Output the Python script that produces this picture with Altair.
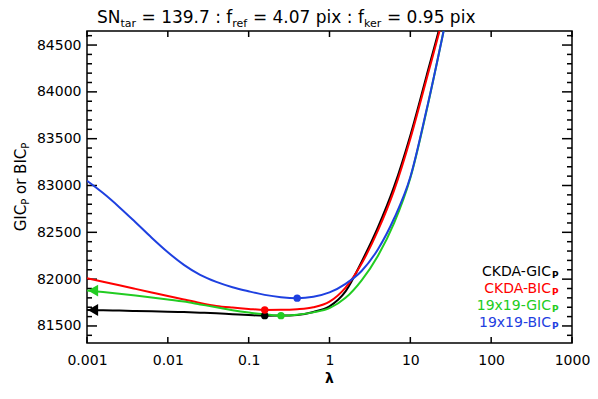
import altair as alt
import pandas as pd

# ---------------- data ----------------
lambdas = [0.001, 0.00158, 0.00251, 0.00398, 0.00631, 0.01, 0.0158, 0.0251,
           0.0398, 0.0631, 0.1, 0.158, 0.251, 0.398, 0.631, 1.0, 1.58, 2.51,
           3.98, 6.31, 10.0, 15.8, 25.1, 39.8]

ckda_gic = [81670, 81667, 81664, 81660, 81656, 81652, 81648, 81642, 81635, 81626,
            81617, 81610, 81611, 81618, 81650, 81710, 81870, 82190, 82555, 82990,
            83535, 84165, 84815, 85550]
ckda_bic = [82010, 81972, 81934, 81896, 81858, 81820, 81782, 81745, 81714, 81696,
            81682, 81671, 81672, 81679, 81700, 81760, 81910, 82170, 82520, 82950,
            83500, 84130, 84780, 85500]
g19_gic = [81878, 81862, 81845, 81826, 81805, 81783, 81760, 81730, 81700, 81668,
           81643, 81625, 81610, 81620, 81645, 81690, 81800, 81990, 82250, 82600,
           83080, 83790, 84600, 85450]
g19_bic = [83050, 82919, 82769, 82608, 82442, 82287, 82153, 82046, 81971, 81914,
           81870, 81832, 81807, 81797, 81812, 81858, 81950, 82090, 82320, 82650,
           83090, 83800, 84600, 85450]

series_names = ["CKDA-GIC", "CKDA-BIC", "19x19-GIC", "19x19-BIC"]
series_values = [ckda_gic, ckda_bic, g19_gic, g19_bic]
series_colors = ["#000000", "#ff0000", "#22cc22", "#1e40e0"]
arrow_series = ["CKDA-GIC", "19x19-GIC"]

x_ticks = [0.001, 0.01, 0.1, 1, 10, 100, 1000]
y_ticks = [81500, 82000, 82500, 83000, 83500, 84000, 84500]
y_minor = [81400, 81600, 81700, 81800, 81900, 82100, 82200, 82300, 82400,
           82600, 82700, 82800, 82900, 83100, 83200, 83300, 83400, 83600,
           83700, 83800, 83900, 84100, 84200, 84300, 84400, 84600]
x_domain = [0.001, 1000]
y_domain = [81318, 84650]

title_parts = [("SN", False), ("tar", True), (" = 139.7 : f", False), ("ref", True),
               (" = 4.07 pix : f", False), ("ker", True), (" = 0.95 pix", False)]
ytitle_parts = [("GIC", False), ("P", True), (" or BIC", False), ("P", True)]
legend_sub = "P"

# ---------------- layout ----------------
W, H = 485, 312
FONT = "DejaVu Sans"
# DejaVu Sans advance widths (em fraction) for measuring text pieces
CW = {" ": .318, "=": .838, ".": .318, ":": .337, "S": .635, "N": .748, "f": .352,
      "p": .635, "i": .278, "x": .592, "t": .392, "a": .613, "r": .411, "e": .615,
      "k": .579, "G": .775, "I": .295, "C": .698, "o": .612, "B": .686, "P": .603,
      "K": .656, "D": .770, "A": .684, "-": .361}
for d in "0123456789":
    CW[d] = .636


def tw(s, size):
    return sum(CW.get(c, .6) for c in s) * size


one = pd.DataFrame({"k": [0]})


def txt(s, x, y, size, color="black", align="left", angle=0, weight="normal"):
    return alt.Chart(one).mark_text(
        text=s, align=align, baseline="alphabetic", font=FONT, fontSize=size,
        color=color, angle=angle, fontWeight=weight
    ).encode(x=alt.value(x), y=alt.value(y))


xaxis = alt.Axis(values=x_ticks, format="~g", grid=False, domain=False, ticks=False,
                 tickSize=0, labelFont=FONT, labelFontSize=14, labelPadding=10,
                 labelFlush=False, labelOverlap=False, labelColor="black")
yaxis = alt.Axis(values=y_ticks, format="d", grid=False, domain=False, ticks=False,
                 tickSize=0, labelFont=FONT, labelFontSize=14, labelPadding=6,
                 labelOverlap=False, labelColor="black")
X = alt.X("lam:Q", scale=alt.Scale(type="log", domain=x_domain, nice=False),
          axis=xaxis, title=None)
Y = alt.Y("val:Q", scale=alt.Scale(domain=y_domain, zero=False, nice=False),
          axis=yaxis, title=None)
color = alt.Color("name:N", scale=alt.Scale(domain=series_names, range=series_colors),
                  legend=None)

layers = []

# tick marks (inward, all four sides)
xt = pd.DataFrame({"lam": x_ticks})
yt = pd.DataFrame({"val": y_ticks})
ym = pd.DataFrame({"val": y_minor})
rule = dict(color="black", strokeWidth=1.5)
layers.append(alt.Chart(xt).mark_rule(**rule).encode(x=X, y=alt.value(H), y2=alt.value(H - 6)))
layers.append(alt.Chart(xt).mark_rule(**rule).encode(x=X, y=alt.value(0), y2=alt.value(6)))
layers.append(alt.Chart(yt).mark_rule(**rule).encode(y=Y, x=alt.value(0), x2=alt.value(10)))
layers.append(alt.Chart(yt).mark_rule(**rule).encode(y=Y, x=alt.value(W - 10), x2=alt.value(W)))
layers.append(alt.Chart(ym).mark_rule(**rule).encode(y=Y, x=alt.value(0), x2=alt.value(5)))
layers.append(alt.Chart(ym).mark_rule(**rule).encode(y=Y, x=alt.value(W - 5), x2=alt.value(W)))

# curves
for name, vals, col in zip(series_names, series_values, series_colors):
    df = pd.DataFrame({"lam": lambdas, "val": vals, "name": name})
    layers.append(alt.Chart(df).mark_line(color=col, strokeWidth=2, clip=True,
                                          interpolate="monotone")
                  .encode(x=X, y=Y))

# minimum markers and left arrows
mins = []
arrows = []
for name, vals in zip(series_names, series_values):
    i = min(range(len(vals)), key=lambda j: vals[j])
    mins.append({"lam": lambdas[i], "val": vals[i], "name": name})
    if name in arrow_series:
        arrows.append({"lam": lambdas[0], "val": vals[0], "name": name})
layers.append(alt.Chart(pd.DataFrame(mins)).mark_point(
    filled=True, shape="circle", size=55, opacity=1).encode(x=X, y=Y, color=color))
layers.append(alt.Chart(pd.DataFrame(arrows)).mark_point(
    filled=True, shape="triangle-left", size=140, opacity=1, xOffset=6)
    .encode(x=X, y=Y, color=color))

# title with subscripts
MAIN, SUB = 17, 11
cx = 10
for s, is_sub in title_parts:
    size = SUB if is_sub else MAIN
    lead = len(s) - len(s.lstrip(" "))
    layers.append(txt(s.strip(" "), cx + tw(" " * lead, size), -8 + (4 if is_sub else 0), size))
    cx += tw(s, size)

# y-axis title (rotated, with subscripts)
YT, YS = 15, 10
total = sum(tw(s, YS if sb else YT) for s, sb in ytitle_parts)
cy = H / 2 + total / 2
for s, is_sub in ytitle_parts:
    size = YS if is_sub else YT
    lead = len(s) - len(s.lstrip(" "))
    layers.append(txt(s.strip(" "), -61 + (3 if is_sub else 0),
                      cy - tw(" " * lead, size), size, angle=270))
    cy -= tw(s, size)

# x-axis title
layers.append(txt("λ", W / 2, 352, 14, align="center", weight="bold"))

# legend (text only, right aligned)
for k, (name, col) in enumerate(zip(series_names, series_colors)):
    by = 245 + 17 * k
    layers.append(txt(name, 464, by, 14, color=col, align="right"))
    layers.append(txt(legend_sub, 465, by + 2, 9, color=col, weight="bold"))

chart = alt.layer(*layers).properties(
    width=W, height=H,
    autosize=alt.AutoSizeParams(type="none"),
    padding={"left": 79, "top": 23, "right": 18, "bottom": 48},
).configure_view(stroke="black", strokeWidth=1.5)

chart.save("out.html", embed_options={"renderer": "svg", "actions": False})
